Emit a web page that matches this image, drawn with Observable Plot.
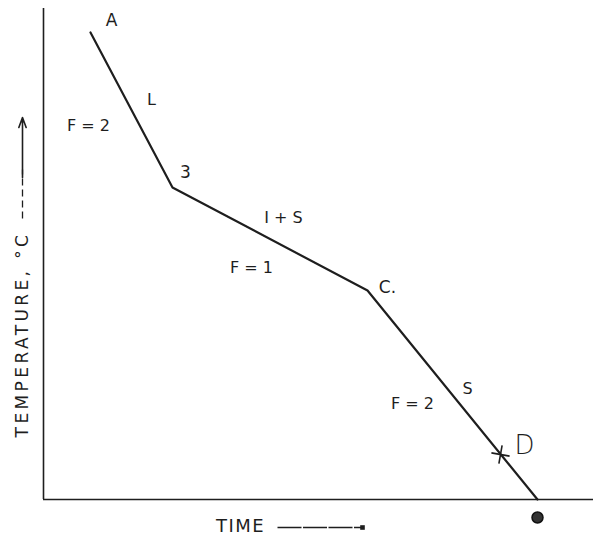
<!DOCTYPE html>
<html>
<head>
<meta charset="utf-8">
<script src="https://cdn.jsdelivr.net/npm/d3@7"></script>
<script src="https://cdn.jsdelivr.net/npm/@observablehq/plot@0.6"></script>
<style>
  html, body { margin: 0; padding: 0; background: #fff; }
  svg { display: block; }
  .ytitle text { letter-spacing: 3.4px; }
  .xtitle text { letter-spacing: 1.5px; }
</style>
</head>
<body>
<div id="chart"></div>
<script>
// Cooling curve vertices (time, temperature) in arbitrary units
const curveTime = [47, 129, 324, 494];
const curveTemp = [467, 312, 209, 0];
// Point labels
const pointNames = ["A", "3", "C."];
const pointNameTime = [68, 142, 344];
const pointNameTemp = [479, 327, 212];
// Region labels (phase and degrees of freedom)
const regionText = ["L", "F = 2", "I + S", "F = 1", "S", "F = 2"];
const regionTime = [108, 45, 240, 208, 424, 369];
const regionTemp = [400, 374, 282, 232, 111, 96];
// Marked point D on the curve
const markTime = [457];
const markTemp = [45];
const markLabel = ["D"];
// Axis titles
const xTitle = "TIME";
const yTitle = "TEMPERATURE, °C";

const curve = curveTime.map((t, i) => ({time: t, temp: curveTemp[i]}));
const pts = pointNames.map((n, i) => ({name: n, time: pointNameTime[i], temp: pointNameTemp[i]}));
const regions = regionText.map((s, i) => ({label: s, time: regionTime[i], temp: regionTemp[i]}));
const marks = markTime.map((t, i) => ({time: t, temp: markTemp[i], label: markLabel[i]}));

const ink = "#1e1e1e";
const font = "'DejaVu Sans', sans-serif";

const chart = Plot.plot({
  width: 593,
  height: 541,
  marginLeft: 43,
  marginRight: 0,
  marginTop: 8,
  marginBottom: 42,
  x: {domain: [0, 550], axis: null},
  y: {domain: [0, 491], axis: null},
  style: {fontFamily: font, background: "#fff"},
  marks: [
    // axes
    Plot.ruleX([0], {y1: 0, y2: 491, stroke: ink, strokeWidth: 1.6}),
    Plot.ruleY([0], {x1: 0, x2: 550, stroke: ink, strokeWidth: 1.4}),
    // cooling curve
    Plot.line(curve, {x: "time", y: "temp", stroke: ink, strokeWidth: 2.2, strokeLinejoin: "round"}),
    // end dot below the axis
    Plot.dot([curve[curve.length - 1]], {x: "time", y: () => -18, r: 5.5, fill: "#333", stroke: "#111"}),
    // D cross
    Plot.dot(marks, {x: "time", y: "temp", symbol: "plus", r: 6, stroke: ink, strokeWidth: 1.6, rotate: 10}),
    Plot.text(marks, {x: d => d.time + 24, y: d => d.temp + 9, text: "label", fontSize: 26, fontWeight: 300, fill: ink}),
    // point labels
    Plot.text(pts, {x: "time", y: "temp", text: "name", fontSize: 17, fill: ink}),
    // region labels
    Plot.text(regions, {x: "time", y: "temp", text: "label", fontSize: 16, fill: ink}),
    // x title and arrow
    Plot.text([xTitle], {x: 197, y: -27, text: d => d, fontSize: 18, fill: ink, className: "xtitle"}),
    Plot.link([{x1: 234, x2: 318}], {x1: "x1", x2: "x2", y1: -28, y2: -28, stroke: ink, strokeWidth: 1.3, strokeDasharray: "24,1.5"}),
    Plot.dot([{x: 319}], {x: "x", y: () => -28, symbol: "square", r: 2.6, fill: ink}),
    // y title and arrow
    Plot.text([yTitle], {x: -21, y: 165, text: d => d, rotate: -90, fontSize: 17, fill: ink, className: "ytitle"}),
    Plot.link([{y1: 281, y2: 330}], {x1: -21, x2: -21, y1: "y1", y2: "y2", stroke: ink, strokeWidth: 1.3, strokeDasharray: "7,4"}),
    Plot.arrow([{y1: 322, y2: 382}], {x1: -21, x2: -21, y1: "y1", y2: "y2", stroke: ink, strokeWidth: 1.6, headLength: 10, headAngle: 40})
  ]
});

document.getElementById("chart").append(chart);
</script>
</body>
</html>
